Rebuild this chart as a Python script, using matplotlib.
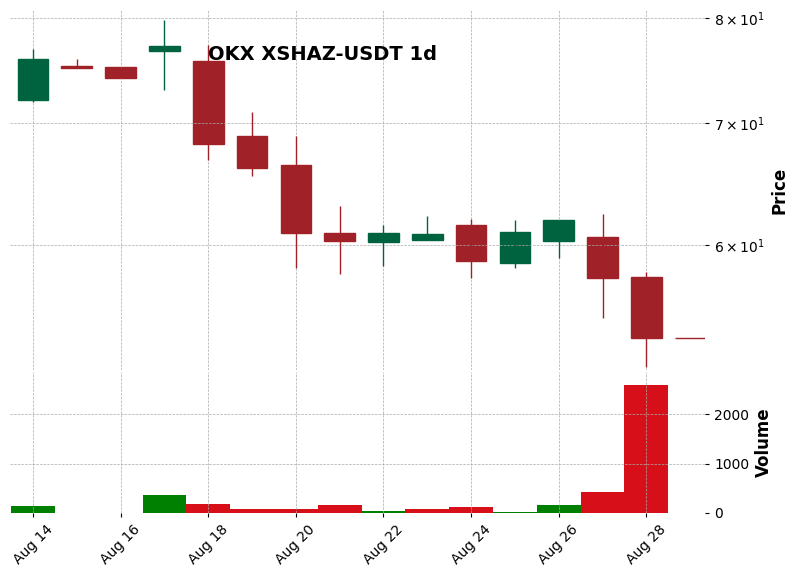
import matplotlib
matplotlib.use("Agg")
import matplotlib.pyplot as plt
import numpy as np
from matplotlib.ticker import FixedLocator, NullLocator

dates = ["Aug 14","Aug 15","Aug 16","Aug 17","Aug 18","Aug 19","Aug 20","Aug 21",
         "Aug 22","Aug 23","Aug 24","Aug 25","Aug 26","Aug 27","Aug 28","Aug 29"]
opens  = [72.1,75.3,75.2,76.7,75.7,68.9,66.4,60.9,60.2,60.4,61.5,58.6,60.3,60.6,57.6,53.3]
highs  = [76.9,75.9,75.2,79.8,77.3,71.0,68.9,63.0,61.5,62.2,62.0,61.9,61.9,62.4,58.0,53.3]
lows   = [71.9,75.1,74.1,73.0,66.8,65.5,58.3,57.8,58.4,60.4,57.5,58.3,59.0,54.7,51.4,53.3]
closes = [75.9,75.1,74.1,77.2,68.2,66.1,60.9,60.3,60.9,60.8,58.8,61.0,61.9,57.5,53.3,53.3]
volumes= [150,10,0,360,180,90,90,160,40,90,130,20,160,430,2580,0]

up_c, dn_c = "#006340", "#a02128"
vup, vdn = "#008000", "#d60f18"

fig = plt.figure(figsize=(8,5.78), dpi=100)
axp = fig.add_axes([0.0125, 1-370/578, 0.8688, 360/578])
axv = fig.add_axes([0.0125, 1-513/578, 0.8688, 141/578], sharex=axp)
x = np.arange(len(dates))
for i in x:
    up = closes[i] > opens[i]
    c = up_c if up else dn_c
    axp.vlines(i, lows[i], highs[i], color=c, lw=1)
    lo, hi = min(opens[i], closes[i]), max(opens[i], closes[i])
    if hi - lo < 0.1:
        axp.hlines(lo, i-0.35, i+0.35, color=c, lw=1)
    else:
        axp.bar(i, hi-lo, bottom=lo, width=0.7, color=c, edgecolor=c)
    vc = vup if (i == 0 or closes[i] > closes[i-1]) else vdn
    axv.bar(i, volumes[i], width=1.0, color=vc)

axp.set_yscale("log")
axp.set_ylim(51.2, 80.8)
axp.yaxis.set_major_locator(FixedLocator([60,70,80]))
axp.yaxis.set_minor_locator(NullLocator())
axp.set_yticklabels([r"$6\times10^{1}$", r"$7\times10^{1}$", r"$8\times10^{1}$"])
axp.set_xlim(-0.525, 15.34)
axv.set_ylim(0, 2850)
axv.set_yticks([0,1000,2000])
for ax in (axp, axv):
    ax.yaxis.tick_right()
    ax.yaxis.set_label_position("right")
    for s in ax.spines.values():
        s.set_visible(False)
    ax.grid(True, ls="--", lw=0.5, color="#aaaaaa")
    ax.tick_params(length=3)
axp.tick_params(axis="x", labelbottom=False, length=0)
axp.set_ylabel("Price", fontsize=12, fontweight="bold")
axv.set_ylabel("Volume", fontsize=12, fontweight="bold")
axv.set_xticks(x[::2])
axv.set_xticklabels(dates[::2], rotation=45, ha="center")
axp.text(0.285, 0.86, "OKX XSHAZ-USDT 1d", transform=axp.transAxes, fontsize=14, fontweight="bold")
fig.savefig("out.png", dpi=100)
